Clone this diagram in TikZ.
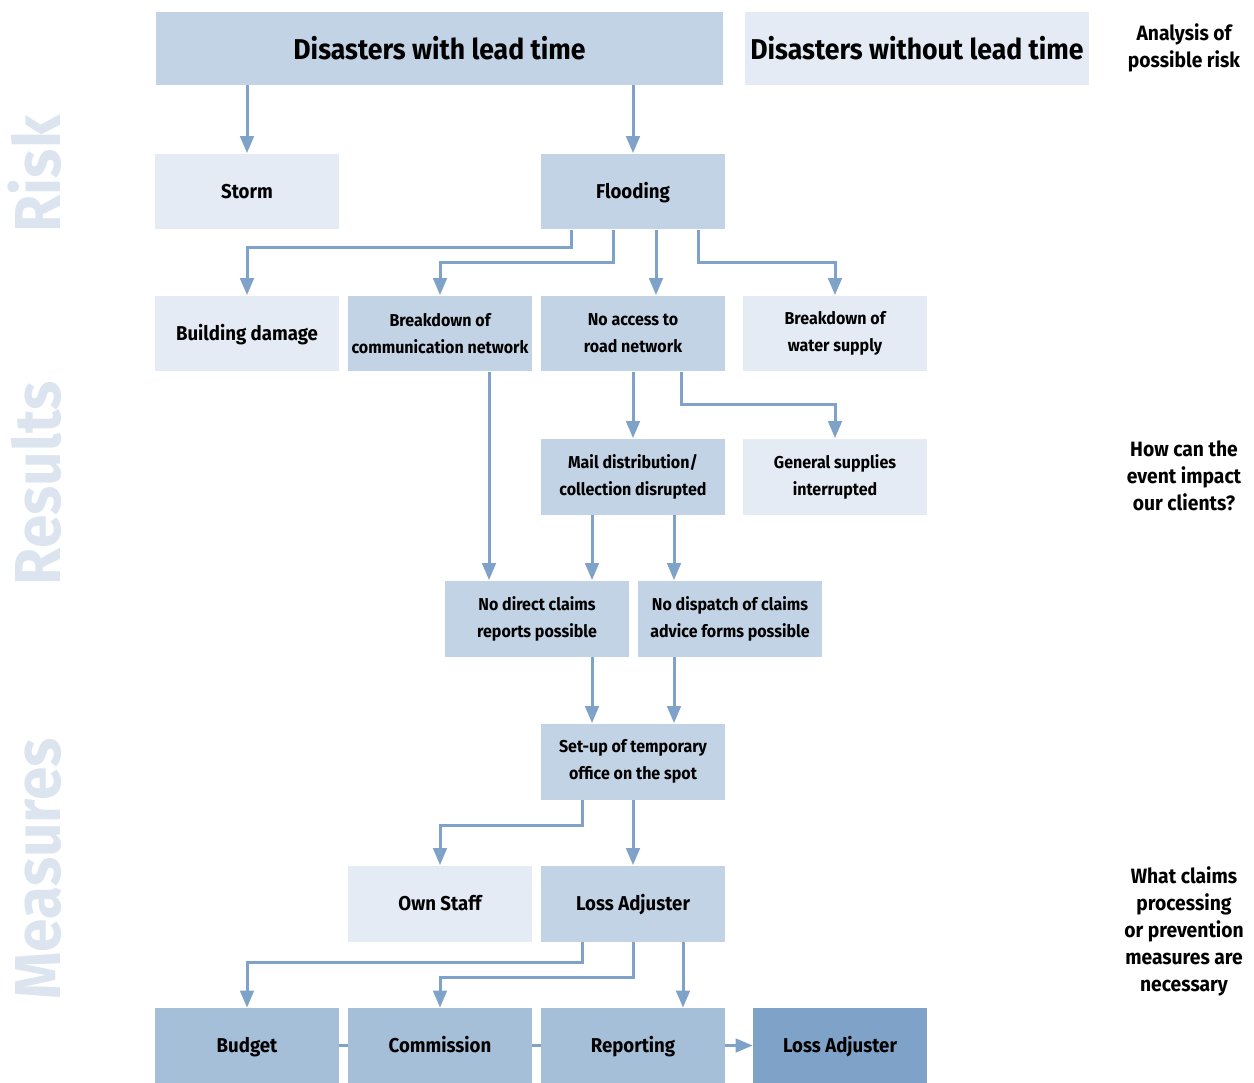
\documentclass[tikz,border=0pt]{standalone}
\usepackage{fontspec}
\setmainfont[FakeStretch=0.93]{Fira Sans}
\usetikzlibrary{arrows.meta, positioning, calc}
\definecolor{BoxLight}{HTML}{E4EBF4}
\definecolor{BoxMid}{HTML}{C2D3E5}
\definecolor{BoxDeep}{HTML}{A6BFD9}
\definecolor{BoxDark}{HTML}{7FA3C8}
\definecolor{LinkBlue}{HTML}{7FA3C8}
\definecolor{LabelPale}{HTML}{DCE5EF}

\begin{document}
\begin{tikzpicture}[x=0.02cm, y=-0.02cm,
    box/.style={minimum width=3.68cm, minimum height=1.52cm, inner sep=0pt, align=center,
        font=\fontsize{11.4}{15.4}\selectfont\bfseries},
    oneline/.style={box, text height=0.85em, text depth=0.05em},
    twoline/.style={box, font=\fontsize{9.8}{15.4}\selectfont\bfseries},
    title/.style={box, minimum height=1.46cm, font=\fontsize{16.3}{18}\selectfont\bfseries},
    link/.style={draw=LinkBlue, line width=0.06cm, -{Triangle[length=0.34cm, width=0.27cm]}},
    plain/.style={draw=LinkBlue, line width=0.06cm},
    side/.style={align=center, font=\fontsize{11.8}{15.4}\selectfont\bfseries},
    stage/.style={rotate=90, anchor=base, text=LabelPale, font=\fontsize{37}{40}\selectfont\bfseries}]
    \useasboundingbox (0,0) rectangle (1254,1082);

    % 1. Stage labels (left margin)
    \node[stage] (riskLbl) at (60,174) {Risk};
    \node[stage] (resLbl) at (60,483) {Results};
    \node[stage] (measLbl) at (60,869) {Measures};

    % 2. Right-hand questions
    \node[side] (qRisk) at (1184,48) {Analysis of\\possible risk};
    \node[side] (qImpact) at (1184,476) {How can the\\event impact\\our clients?};
    \node[side] (qMeasure) at (1184,931) {What claims\\processing\\or prevention\\measures are\\necessary};

    % 3. Top row
    \node[title, fill=BoxMid, minimum width=11.34cm] (lead) at (439.5,48.5) {Disasters with lead time};
    \node[title, fill=BoxLight, minimum width=6.88cm] (nolead) at (917,48.5) {Disasters without lead time};

    % 4. Risk boxes
    \node[oneline, fill=BoxLight] (storm) at (247,191.5) {Storm};
    \node[oneline, fill=BoxMid] (flood) at (633,191.5) {Flooding};

    % 5. Results boxes
    \node[oneline, fill=BoxLight] (bdmg) at (247,333.5) {Building damage};
    \node[twoline, fill=BoxMid] (comm) at (440,333.5) {Breakdown of\\communication network};
    \node[twoline, fill=BoxMid] (road) at (633,333.5) {No access to\\road network};
    \node[twoline, fill=BoxLight] (water) at (835,333.5) {Breakdown of\\water supply};
    \node[twoline, fill=BoxMid] (mail) at (633,476.5) {Mail distribution/\\collection disrupted};
    \node[twoline, fill=BoxLight] (supply) at (835,476.5) {General supplies\\interrupted};
    \node[twoline, fill=BoxMid] (direct) at (537,618.5) {No direct claims\\reports possible};
    \node[twoline, fill=BoxMid] (dispatch) at (730,618.5) {No dispatch of claims\\advice forms possible};

    % 6. Measures boxes
    \node[twoline, fill=BoxMid] (office) at (633,761.5) {Set-up of temporary\\office on the spot};
    \node[oneline, fill=BoxLight] (staff) at (440,903.5) {Own Staff};
    \node[oneline, fill=BoxMid] (adjust) at (633,903.5) {Loss Adjuster};
    \node[oneline, fill=BoxDeep, minimum height=1.5cm] (budget) at (247,1045.5) {Budget};
    \node[oneline, fill=BoxDeep, minimum height=1.5cm] (commis) at (440,1045.5) {Commission};
    \node[oneline, fill=BoxDeep, minimum height=1.5cm] (report) at (633,1045.5) {Reporting};
    \node[oneline, fill=BoxDark, minimum width=3.48cm, minimum height=1.5cm] (adjfinal) at (840,1045.5) {Loss Adjuster};

    % 7. Connectors
    \draw[link] (lead.south -| storm.north) -- (storm.north);
    \draw[link] (lead.south -| flood.north) -- (flood.north);
    \draw[link] (flood.south -| 571,0) -- ++(0,18) -| (bdmg.north);
    \draw[link] (flood.south -| 613,0) -- ++(0,33) -| (comm.north);
    \draw[link] (flood.south -| 656,0) -- (road.north -| 656,0);
    \draw[link] (flood.south -| 698,0) -- ++(0,33) -| (water.north);
    \draw[link] (road.south) -- (mail.north);
    \draw[link] (road.south -| 681,0) -- ++(0,33) -| (supply.north);
    \draw[link] (comm.south -| 489,0) -- (direct.north -| 489,0);
    \draw[link] (mail.south -| 592,0) -- (direct.north -| 592,0);
    \draw[link] (mail.south -| 674,0) -- (dispatch.north -| 674,0);
    \draw[link] (direct.south -| 592,0) -- (office.north -| 592,0);
    \draw[link] (dispatch.south -| 674,0) -- (office.north -| 674,0);
    \draw[link] (office.south -| 582,0) -- ++(0,26) -| (staff.north);
    \draw[link] (office.south) -- (adjust.north);
    \draw[link] (adjust.south -| 582,0) -- ++(0,21) -| (budget.north);
    \draw[link] (adjust.south -| 633,0) -- ++(0,36) -| (commis.north);
    \draw[link] (adjust.south -| 683,0) -- (report.north -| 683,0);

    % 8. Bottom row chain
    \draw[plain] (budget.east) -- (commis.west);
    \draw[plain] (commis.east) -- (report.west);
    \draw[link] (report.east) -- (adjfinal.west);
\end{tikzpicture}
\end{document}
